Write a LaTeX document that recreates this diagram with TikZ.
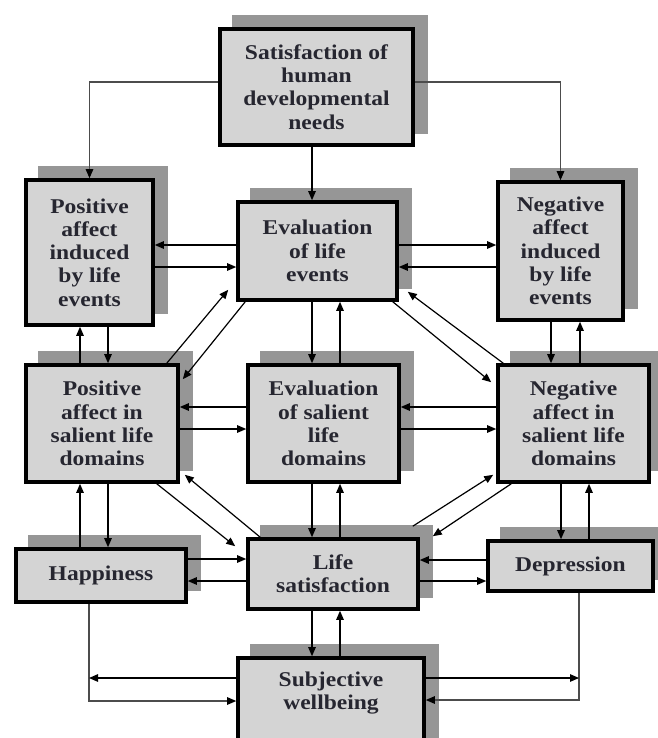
\documentclass[tikz,border=0pt]{standalone}
\usepackage{fontspec}
\setmainfont{Liberation Serif}[FakeStretch=1.12]
\usetikzlibrary{arrows.meta,shadows}

\definecolor{boxfill}{RGB}{212,212,212}
\definecolor{shadowfill}{RGB}{150,150,150}
\definecolor{labeltext}{RGB}{38,38,48}

\begin{document}
\begin{tikzpicture}
[
	x=1pt,
	y=-1pt,
	box/.style={draw,line width=3.6pt,fill=boxfill,align=center,inner sep=0pt,
		text=labeltext,font=\fontsize{21}{23.3}\selectfont\bfseries,
		general shadow={fill=shadowfill,draw=shadowfill,line width=3.6pt,
			shadow xshift=13.5pt,shadow yshift=12.5pt}},
	arr/.style={-{Triangle[length=9pt,width=7.5pt]},line width=1.2pt},
	feed/.style={-{Triangle[length=9pt,width=7.5pt,color=black]},line width=1.1pt,draw=black!70}
]

	\useasboundingbox (0,0) rectangle (657,738);

	% boxes, top to bottom
	\node[box,minimum width=193pt,minimum height=116pt] (needs) at (316.5,87) {Satisfaction of\\human\\developmental\\needs};

	\node[box,minimum width=127pt,minimum height=145pt] (posev) at (89.5,252.5) {Positive\\affect\\induced\\by life\\events};
	\node[box,minimum width=159pt,minimum height=98pt] (evalev) at (317.5,251) {Evaluation\\of life\\events};
	\node[box,minimum width=125pt,minimum height=138pt] (negev) at (560.5,251) {Negative\\affect\\induced\\by life\\events};

	\node[box,minimum width=152pt,minimum height=117pt] (posdom) at (102,423.5) {Positive\\affect in\\salient life\\domains};
	\node[box,minimum width=151pt,minimum height=117pt] (evaldom) at (323.5,423.5) {Evaluation\\of salient\\life\\domains};
	\node[box,minimum width=151pt,minimum height=117pt] (negdom) at (573.5,423.5) {Negative\\affect in\\salient life\\domains};

	\node[box,minimum width=170pt,minimum height=53pt] (happy) at (101,575.5) {Happiness};
	\node[box,minimum width=170pt,minimum height=70pt] (lifesat) at (333,574) {Life\\satisfaction};
	\node[box,minimum width=165pt,minimum height=50pt] (depress) at (570.5,566) {Depression};

	\node[box,minimum width=186pt,minimum height=110pt,text depth=45pt] (swb) at (331,713) {Subjective\\wellbeing};

	% from the needs box
	\draw[feed] ([shift={(0,-5)}]needs.west) -| (posev.north);
	\draw[feed] ([shift={(0,-5)}]needs.east) -| (negev.north);
	\draw[arr] ([shift={(-4.5,0)}]needs.south) coordinate (t) -- (t |- evalev.north);

	% side to side
	\draw[arr] ([shift={(0,-6)}]evalev.west) coordinate (t) -- (t -| posev.east);
	\draw[arr] ([shift={(0,14.5)}]posev.east) coordinate (t) -- (t -| evalev.west);
	\draw[arr] ([shift={(0,-6)}]evalev.east) coordinate (t) -- (t -| negev.west);
	\draw[arr] ([shift={(0,16)}]negev.west) coordinate (t) -- (t -| evalev.east);

	\draw[arr] ([shift={(0,-16.5)}]evaldom.west) coordinate (t) -- (t -| posdom.east);
	\draw[arr] ([shift={(0,5.5)}]posdom.east) coordinate (t) -- (t -| evaldom.west);
	\draw[arr] ([shift={(0,-16.5)}]negdom.west) coordinate (t) -- (t -| evaldom.east);
	\draw[arr] ([shift={(0,5.5)}]evaldom.east) coordinate (t) -- (t -| negdom.west);

	\draw[arr] ([shift={(0,-16.5)}]happy.east) coordinate (t) -- (t -| lifesat.west);
	\draw[arr] ([shift={(0,7)}]lifesat.west) coordinate (t) -- (t -| happy.east);
	\draw[arr] ([shift={(0,-6)}]depress.west) coordinate (t) -- (t -| lifesat.east);
	\draw[arr] ([shift={(0,7)}]lifesat.east) coordinate (t) -- (t -| depress.west);

	% up and down
	\draw[arr] ([shift={(-5.5,0)}]evalev.south) coordinate (t) -- (t |- evaldom.north);
	\draw[arr] ([shift={(16.5,0)}]evaldom.north) coordinate (t) -- (t |- evalev.south);
	\draw[arr] ([shift={(-11.5,0)}]evaldom.south) coordinate (t) -- (t |- lifesat.north);
	\draw[arr] ([shift={(7,0)}]lifesat.north) coordinate (t) -- (t |- evaldom.south);
	\draw[arr] ([shift={(-21,0)}]lifesat.south) coordinate (t) -- (t |- swb.north);
	\draw[arr] ([shift={(9,0)}]swb.north) coordinate (t) -- (t |- lifesat.south);

	\draw[arr] ([shift={(18.5,0)}]posev.south) coordinate (t) -- (t |- posdom.north);
	\draw[arr] ([shift={(-22,0)}]posdom.north) coordinate (t) -- (t |- posev.south);
	\draw[arr] ([shift={(6,0)}]posdom.south) coordinate (t) -- (t |- happy.north);
	\draw[arr] ([shift={(-21,0)}]happy.north) coordinate (t) -- (t |- posdom.south);

	\draw[arr] ([shift={(-9.5,0)}]negev.south) coordinate (t) -- (t |- negdom.north);
	\draw[arr] ([shift={(6.5,0)}]negdom.north) coordinate (t) -- (t |- negev.south);
	\draw[arr] ([shift={(-12.5,0)}]negdom.south) coordinate (t) -- (t |- depress.north);
	\draw[arr] ([shift={(18.5,0)}]depress.north) coordinate (t) -- (t |- negdom.south);

	% diagonals
	\draw[arr] ([shift={(-13,0)}]posdom.north east) -- ([shift={(-8,-12)}]evalev.south west);
	\draw[arr] ([shift={(9,0)}]evalev.south west) -- ([shift={(3,16)}]posdom.north east);
	\draw[arr] ([shift={(-6,0)}]evalev.south east) -- ([shift={(-5,19)}]negdom.north west);
	\draw[arr] ([shift={(7,0)}]negdom.north west) -- ([shift={(9,-10)}]evalev.south east);
	\draw[arr] ([shift={(-23,0)}]posdom.south east) -- ([shift={(-11,9)}]lifesat.north west);
	\draw[arr] ([shift={(14,0)}]lifesat.north west) -- ([shift={(5,-9)}]posdom.south east);
	\draw[arr] ([shift={(-7,-11)}]lifesat.north east) -- ([shift={(-3,-9)}]negdom.south west);
	\draw[arr] ([shift={(15,0)}]negdom.south west) -- ([shift={(13,-1)}]lifesat.north east);

	% down to subjective wellbeing
	\draw[feed] ([shift={(-12,0)}]happy.south) coordinate (hapdrop) |- ([shift={(0,-12)}]swb.west);
	\draw[arr] ([shift={(0,-35)}]swb.west) coordinate (t) -- (t -| hapdrop);
	\draw[feed] ([shift={(8.5,0)}]depress.south) coordinate (depdrop) |- ([shift={(0,-13)}]swb.east);
	\draw[arr] ([shift={(0,-35)}]swb.east) coordinate (t) -- (t -| depdrop);

\end{tikzpicture}
\end{document}
